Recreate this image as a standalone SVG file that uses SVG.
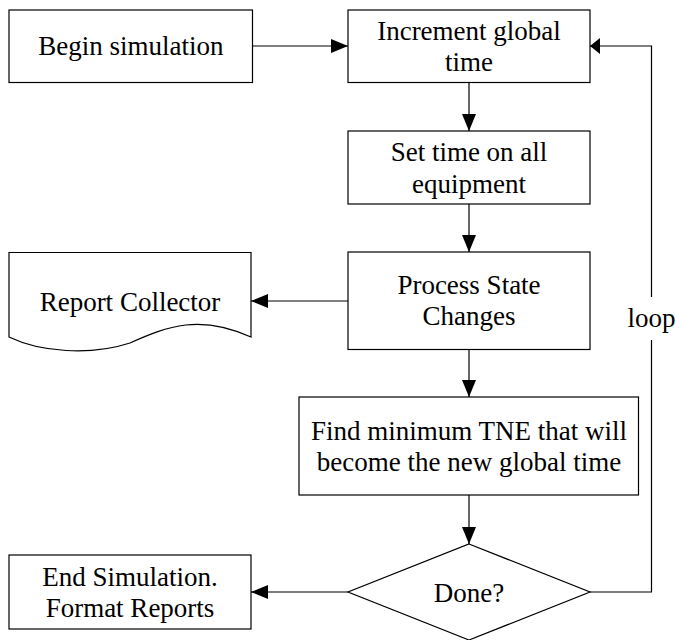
<svg xmlns="http://www.w3.org/2000/svg" width="675" height="640" viewBox="0 0 675 640">
<style>
.box{fill:#fff;stroke:#000;stroke-width:1.2}
.ln{fill:none;stroke:#000;stroke-width:1.2}
</style>
<defs>
<marker id="ah" markerUnits="userSpaceOnUse" markerWidth="18" markerHeight="14" refX="17" refY="7" orient="auto" overflow="visible">
<path d="M0,0 L17,7 L0,14 z" fill="#000"/>
</marker>
<marker id="ahs" markerUnits="userSpaceOnUse" markerWidth="10" markerHeight="16" refX="10" refY="8" orient="auto" overflow="visible">
<path d="M0,0 L10,8 L0,16 z" fill="#000"/>
</marker>
</defs>
<rect width="675" height="640" fill="#fff"/>
<g font-family="Liberation Serif, Times New Roman, DejaVu Serif, serif" font-size="27" fill="#000" text-anchor="middle">
<g id="connectors">
<line class="ln" x1="253" y1="46" x2="348" y2="46" marker-end="url(#ah)"/>
<line class="ln" x1="469" y1="82" x2="469" y2="131" marker-end="url(#ah)"/>
<line class="ln" x1="469" y1="204" x2="469" y2="252" marker-end="url(#ah)"/>
<line class="ln" x1="348" y1="301" x2="251" y2="301" marker-end="url(#ah)"/>
<line class="ln" x1="469" y1="349.5" x2="469" y2="397" marker-end="url(#ah)"/>
<line class="ln" x1="469" y1="495" x2="469" y2="544" marker-end="url(#ah)"/>
<line class="ln" x1="348" y1="592" x2="251" y2="592" marker-end="url(#ah)"/>
<polyline class="ln" points="590,592 651.5,592 651.5,340"/>
<polyline class="ln" points="651.5,297 651.5,46 590,46" marker-end="url(#ahs)"/>
<text x="651.5" y="327">loop</text>
</g>
<g id="begin">
<rect class="box" x="9" y="10" width="243.5" height="72.5"/>
<text x="130.8" y="55">Begin simulation</text>
</g>
<g id="increment">
<rect class="box" x="348" y="10" width="242" height="72.5"/>
<text x="469" y="39.5">Increment global</text>
<text x="469" y="70.5">time</text>
</g>
<g id="settime">
<rect class="box" x="348" y="131" width="242" height="73"/>
<text x="469" y="161">Set time on all</text>
<text x="469" y="192.5">equipment</text>
</g>
<g id="process">
<rect class="box" x="348" y="252" width="242" height="97.5"/>
<text x="469" y="293.5">Process State</text>
<text x="469" y="325">Changes</text>
</g>
<g id="report">
<path class="box" d="M9,252.5 L251,252.5 L251,337 C200,314 168,326 130,343 C90,356 40,352 9,337 Z"/>
<text x="130" y="310.5">Report Collector</text>
</g>
<g id="findmin">
<rect class="box" x="299" y="397" width="339.5" height="98"/>
<text x="469" y="439.5">Find minimum TNE that will</text>
<text x="469" y="470.5">become the new global time</text>
</g>
<g id="done">
<polygon class="box" points="469,544 590,592 469,640 348,592"/>
<text x="469" y="601.5">Done?</text>
</g>
<g id="end">
<rect class="box" x="9" y="555" width="242" height="74"/>
<text x="130" y="585.5">End Simulation.</text>
<text x="130" y="616.5">Format Reports</text>
</g>
</g>
</svg>
